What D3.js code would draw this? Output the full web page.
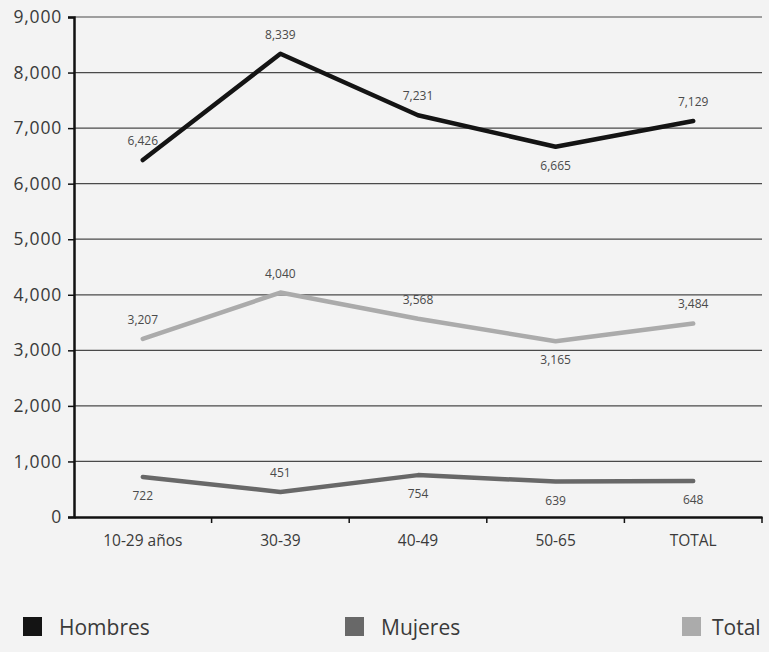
<!DOCTYPE html>
<html><head><meta charset="utf-8">
<script src="https://cdn.jsdelivr.net/npm/d3@7"></script>
<style>
body{margin:0;background:#f3f3f3;}
svg{display:block;font-family:"Open Sans",sans-serif;}
</style></head>
<body><svg id="c" width="769" height="652"></svg>
<script>
const categories = ["10-29 años","30-39","40-49","50-65","TOTAL"];
const hombres = [6426, 8339, 7231, 6665, 7129];
const mujeres = [722, 451, 754, 639, 648];
const total = [3207, 4040, 3568, 3165, 3484];
const yTicks = [0,1000,2000,3000,4000,5000,6000,7000,8000,9000];
const seriesNames = ["Hombres","Mujeres","Total"];
// label placement: 1 = above, -1 = below
const hombresPos = [1,1,1,-1,1];
const mujeresPos = [-1,1,-1,-1,-1];
const totalPos = [1,1,1,-1,1];

const series = [
  {name:seriesNames[0], values:hombres, pos:hombresPos, color:"#141414"},
  {name:seriesNames[1], values:mujeres, pos:mujeresPos, color:"#686868"},
  {name:seriesNames[2], values:total, pos:totalPos, color:"#ababab"}
];

(function(){
const svg = d3.select("#c");
const mLeft = 74, mRight = 762, mTop = 17, mBottom = 517;
const x = d3.scaleBand().domain(categories).range([mLeft,mRight]);
const y = d3.scaleLinear().domain([0,9000]).range([mBottom,mTop]);
const fmt = d3.format(",");

// grid
svg.append("g").selectAll("line").data(yTicks.filter(d=>d>0)).join("line")
  .attr("x1",mLeft).attr("x2",mRight).attr("y1",d=>y(d)).attr("y2",d=>y(d))
  .attr("stroke","#4a4a4a").attr("stroke-width",1.2);

// y axis
const ya = svg.append("g").attr("transform",`translate(${mLeft},0)`)
  .call(d3.axisLeft(y).tickValues(yTicks).tickFormat(fmt).tickSize(6).tickPadding(6));
ya.select(".domain").attr("stroke","#111").attr("stroke-width",2.5);
ya.selectAll(".tick line").attr("stroke","#111").attr("stroke-width",1.5);
ya.selectAll("text").attr("font-size",17.5).attr("fill","#3a3a3a").attr("font-family","Open Sans, sans-serif").attr("letter-spacing",0.8);

// x axis
const xa = svg.append("g").attr("transform",`translate(0,${mBottom})`)
  .call(d3.axisBottom(x).tickSize(0).tickPadding(18));
xa.select(".domain").attr("stroke","#111").attr("stroke-width",2.5);
xa.selectAll("text").attr("font-size",15.5).attr("fill","#3a3a3a").attr("font-family","Open Sans, sans-serif");
// band boundary ticks
svg.append("g").selectAll("line").data(categories).join("line")
  .attr("x1",d=>x(d)+x.bandwidth()).attr("x2",d=>x(d)+x.bandwidth())
  .attr("y1",mBottom).attr("y2",mBottom+6).attr("stroke","#111").attr("stroke-width",1.5);

const cx = d=>x(d)+x.bandwidth()/2;
const line = d3.line().x((d,i)=>cx(categories[i])).y(d=>y(d));

series.forEach(s=>{
  svg.append("path").datum(s.values).attr("d",line)
    .attr("fill","none").attr("stroke",s.color).attr("stroke-width",4.5)
    .attr("stroke-linejoin","round").attr("stroke-linecap","round");
  svg.append("g").selectAll("text").data(s.values).join("text")
    .attr("x",(d,i)=>cx(categories[i]))
    .attr("y",(d,i)=>y(d) + (s.pos[i]>0 ? -15 : 23))
    .attr("text-anchor","middle").attr("font-size",12).attr("fill","#4a4a4a")
    .text(d=>fmt(d));
});

// legend
const legX = [23, 345, 682];
const lg = svg.append("g");
series.forEach((s,i)=>{
  lg.append("rect").attr("x",legX[i]).attr("y",617).attr("width",19).attr("height",19).attr("fill",s.color);
  lg.append("text").attr("x",legX[i]+ (i===2?30:36)).attr("y",635).attr("font-size",21).attr("fill","#3a3a3a").text(s.name);
});
})();
</script></body></html>
